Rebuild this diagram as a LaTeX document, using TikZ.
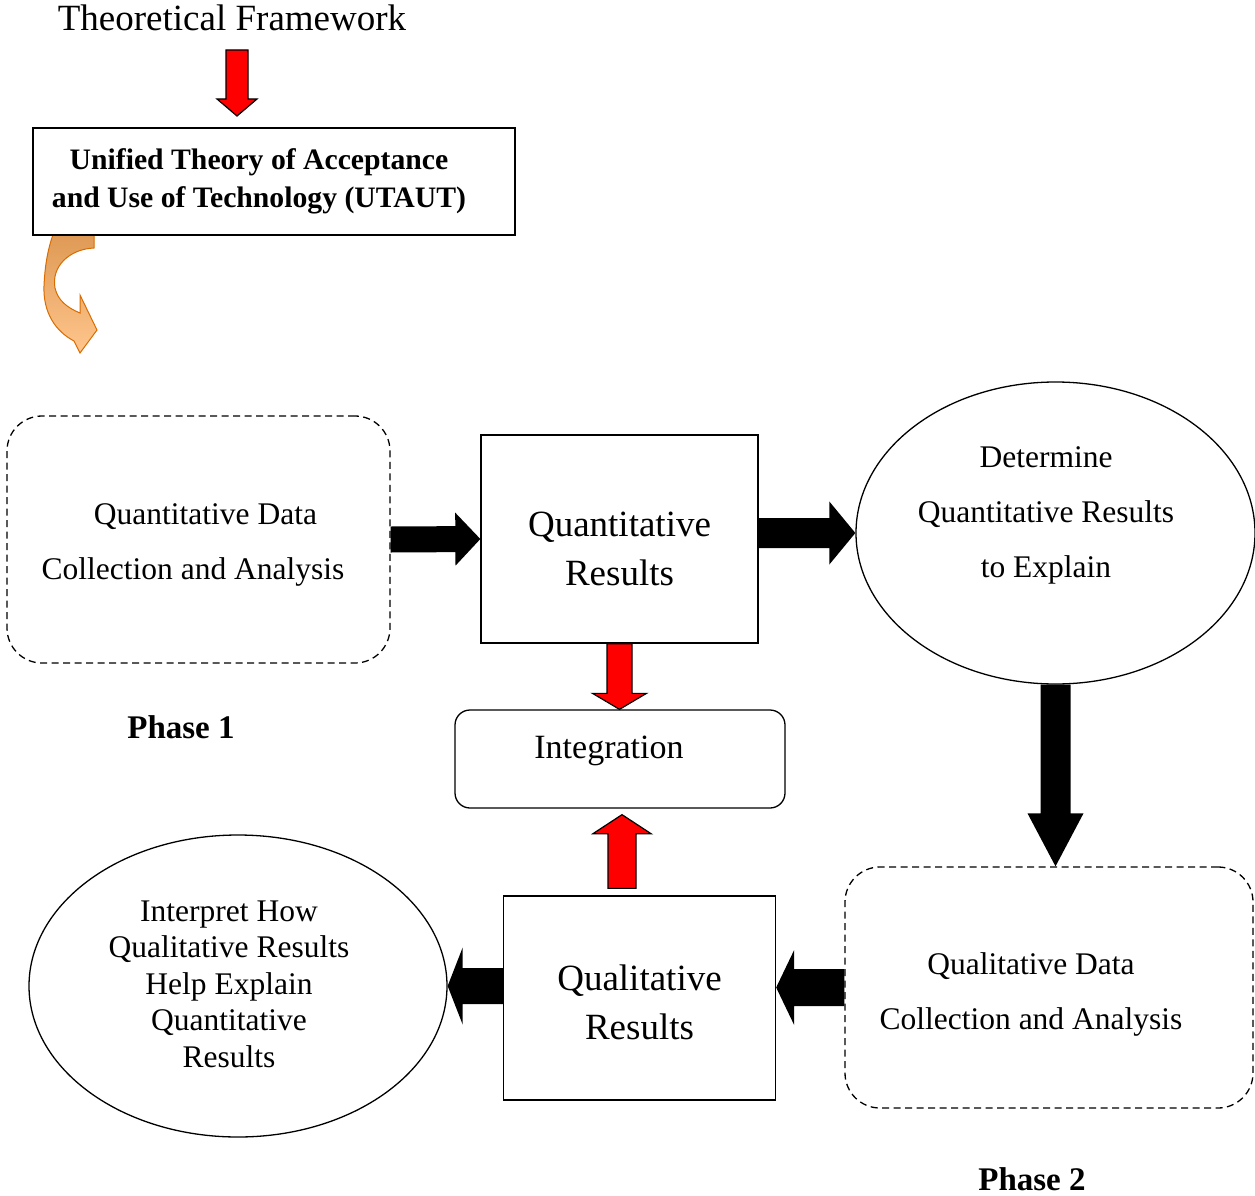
\documentclass[tikz,border=0pt]{standalone}
\usepackage{fontspec}
\setmainfont{Liberation Serif}
\usetikzlibrary{shapes.geometric,calc}
\newcommand\blockarr[6]{%
  \path[#1] ($(#2)!#4!90:(#3)$) -- ($(#3)!#6!(#2)!#4!90:(#3)$) -- ($(#3)!#6!(#2)!#5!90:(#3)$) -- (#3)
    -- ($(#3)!#6!(#2)!#5!-90:(#3)$) -- ($(#3)!#6!(#2)!#4!-90:(#3)$) -- ($(#2)!#4!-90:(#3)$) -- cycle;}
\tikzset{
  box/.style={draw, fill=white, line width=1.3pt, inner sep=0pt, align=center},
  dbox/.style={box, dash pattern=on 7pt off 4.5pt, rounded corners=35pt},
  ell/.style={ellipse, draw, fill=white, line width=1.3pt, inner sep=0pt, align=center},
  body/.style={font=\fontsize{31.5}{55}\selectfont},
  big/.style={font=\fontsize{37}{49}\selectfont},
  redarr/.style={fill=red, draw=black, line width=1.2pt, line join=miter},
  blackarr/.style={fill=black, draw=none},
  txt/.style={inner sep=0pt, align=center}
}
\begin{document}
\begin{tikzpicture}[x=1pt,y=-1pt]
\useasboundingbox (0,0) rectangle (1255,1196);
% title
\node[txt, font=\fontsize{37}{40}\selectfont] (tf) at (232,18) {Theoretical Framework};
\coordinate (tfa) at (237,50);
\coordinate (tfb) at (237,116);
\blockarr{redarr}{tfa}{tfb}{11pt}{20pt}{17pt}
% orange curved arrow
\shade[top color=brown!65!orange!80!white, middle color=orange!85!white, bottom color=orange!45!white, draw=orange!85!black, line width=1pt, line join=miter]
  (94,232) -- (94,248) .. controls (70,249) and (51,266) .. (55,288)
  .. controls (58,301) and (68,308) .. (80,313) -- (80,295) -- (97,330) -- (80,353) -- (74,341)
  .. controls (55,331) and (43,312) .. (44,286) .. controls (45,262) and (49,245) .. (54,232) -- cycle;
% UTAUT box
\node[box, minimum width=482pt, minimum height=107pt, font=\bfseries\fontsize{29.7}{38}\selectfont] (ut) at (274,181.5)
  {Unified Theory of Acceptance\hspace*{30pt}\\and Use of Technology (UTAUT)\hspace*{30pt}};
% phase 1 nodes
\node[dbox, body, minimum width=383pt, minimum height=247pt] (q1) at (198.5,539.5)
  {\rule{0pt}{31pt}\hspace*{14pt}Quantitative Data\\Collection and Analysis\hspace*{11pt}};
\node[box, big, minimum width=277pt, minimum height=208pt] (qr) at (619.5,539) {\rule{0pt}{45pt}Quantitative\\Results};
\node[ell, minimum width=399pt, minimum height=302pt] (det) at (1055.5,533) {};
\node[txt, body] (dettxt) at (1046,515.5) {Determine\\Quantitative Results\\to Explain};
\node[box, rounded corners=15pt, minimum width=330pt, minimum height=98pt] (integ) at (620,759) {};
\node[txt, font=\fontsize{34}{40}\selectfont] (integtxt) at (609,751) {Integration};
\node[txt, font=\bfseries\fontsize{33}{40}\selectfont] (ph1) at (181,727) {Phase 1};
% phase 2 nodes
\node[dbox, body, minimum width=408pt, minimum height=241pt] (qd) at (1049,987.5)
  {\rule{0pt}{36pt}Qualitative Data\hspace*{36pt}\\Collection and Analysis\hspace*{36pt}};
\node[box, big, minimum width=272pt, minimum height=204pt] (ql) at (639.5,998) {\rule{0pt}{35pt}Qualitative\\Results};
\node[ell, minimum width=418pt, minimum height=302pt] (interp) at (238,986) {};
\node[txt, font=\fontsize{31.5}{36.5}\selectfont] (interptxt) at (229,984)
  {Interpret How\\Qualitative Results\\Help Explain\\Quantitative\\Results};
\node[txt, font=\bfseries\fontsize{33}{40}\selectfont] (ph2) at (1032,1179) {Phase 2};
% connectors
\blockarr{blackarr}{q1.east}{qr.west}{13pt}{26.5pt}{25pt}
\coordinate (a2s) at (det.west -| qr.east);
\blockarr{blackarr}{a2s}{det.west}{15pt}{31.5pt}{26pt}
\coordinate (rdb) at (qr.south |- integ.north);
\blockarr{redarr}{qr.south}{rdb}{12.5pt}{27pt}{16pt}
\coordinate (rus) at ($(ql.north)+(-17.5,-7)$);
\coordinate (rue) at ($(integ.south)+(2,6)$);
\blockarr{redarr}{rus}{rue}{14pt}{29pt}{19pt}
\coordinate (bde) at (det.south |- qd.north);
\blockarr{blackarr}{det.south}{bde}{15pt}{28pt}{53pt}
\coordinate (bls) at (interp.east -| ql.west);
\blockarr{blackarr}{bls}{interp.east}{18pt}{38.5pt}{15pt}
\coordinate (bqe) at (qd.west -| ql.east);
\blockarr{blackarr}{qd.west}{bqe}{18.5pt}{37.5pt}{18pt}
\end{tikzpicture}
\end{document}
